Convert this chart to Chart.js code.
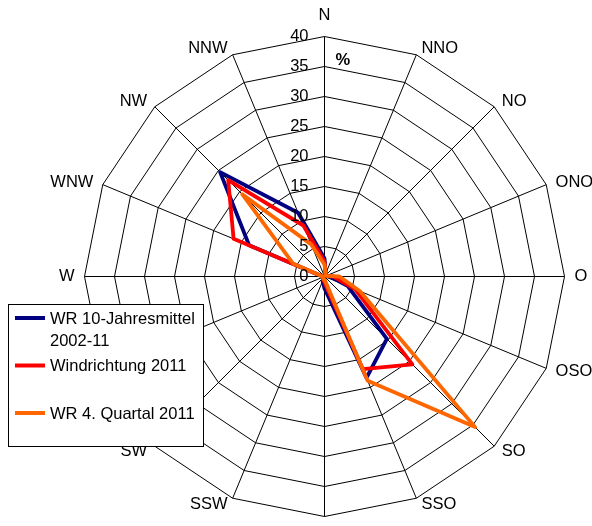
<!DOCTYPE html>
<html lang="de">
<head>
<meta charset="UTF-8">
<title>Windrichtung</title>
<script src="https://cdn.jsdelivr.net/npm/chart.js"></script>
<style>
  html, body { margin: 0; padding: 0; background: #fff; }
  #wrap { width: 592px; height: 526px; }
</style>
</head>
<body>
<div id="wrap"><canvas id="rose" width="592" height="526"></canvas></div>
<script>
// directions, clockwise from north
const directions = ["N", "NNO", "NO", "ONO", "O", "OSO", "SO", "SSO", "S", "SSW", "SW", "WSW", "W", "WNW", "NW", "NNW"];

// frequency in %
const mittel10 = [3, 0.5, 0.3, 0.3, 1, 4.2, 14.7, 18.3, 2, 0.8, 0.3, 0.3, 0.3, 13.6, 24.6, 11.5];
const jahr2011 = [2.5, 0.5, 0.3, 0.3, 1.5, 5.5, 20.7, 16.7, 1, 0.5, 0.3, 0.3, 0.3, 16.4, 22.7, 9.2];
const quartal4 = [2, 0.5, 0.3, 0.3, 2.5, 6.4, 35.5, 18.8, 0.5, 0.5, 0.3, 0.3, 0.3, 5.7, 19.4, 5.8];

const seriesNames = [["WR 10-Jahresmittel", "2002-11"], ["Windrichtung 2011"], ["WR 4. Quartal 2011"]];
const seriesColors = ["#000080", "#ff0000", "#ff6600"];

const tickValues = [0, 5, 10, 15, 20, 25, 30, 35, 40];
const unitLabel = "%";

const FONT = '16.5px "Liberation Sans", Arial, sans-serif';

// white page behind everything
const whiteBg = {
    id: 'whiteBg',
    beforeDraw(chart) {
        const ctx = chart.ctx;
        ctx.save();
        ctx.fillStyle = '#fff';
        ctx.fillRect(0, 0, chart.width, chart.height);
        ctx.restore();
    }
};

// tick numbers, direction names, unit and the boxed legend
const roseText = {
    id: 'roseText',
    afterDraw(chart) {
        const ctx = chart.ctx;
        const r = chart.scales.r;
        ctx.save();
        ctx.font = FONT;
        ctx.fillStyle = '#000';
        ctx.textBaseline = 'middle';

        ctx.textAlign = 'right';
        tickValues.forEach(v => {
            ctx.fillText(String(v), r.xCenter - 16, r.yCenter - r.getDistanceFromCenterForValue(v));
        });

        directions.forEach((d, i) => {
            const a = r.getIndexAngle(i);
            const s = Math.sin(a), c = Math.cos(a);
            const p = r.getPointPosition(i, r.drawingArea);
            if (Math.abs(s) < 0.01) {
                if (p.y - c * 22 > chart.height) return; // cut off like the original
                ctx.textAlign = 'center';
                ctx.fillText(d, p.x, p.y - c * 21);
            } else {
                const gap = 2 + 8 * Math.abs(s);
                ctx.textAlign = s > 0 ? 'left' : 'right';
                ctx.fillText(d, p.x + Math.sign(s) * gap, p.y - c * 7);
            }
        });

        ctx.font = 'bold ' + FONT;
        ctx.textAlign = 'left';
        ctx.fillText(unitLabel, r.xCenter + 11, r.yCenter - r.drawingArea * 0.9);

        // legend box
        const bx = 8.5, by = 304.5, bw = 195, bh = 142, slot = 47.5;
        ctx.fillStyle = '#fff';
        ctx.fillRect(bx, by, bw, bh);
        ctx.strokeStyle = '#000';
        ctx.lineWidth = 1;
        ctx.strokeRect(bx, by, bw, bh);
        ctx.font = FONT;
        seriesNames.forEach((lines, k) => {
            const y0 = by + k * slot + 13.5;
            ctx.strokeStyle = seriesColors[k];
            ctx.lineWidth = 4;
            ctx.beginPath();
            ctx.moveTo(15, y0);
            ctx.lineTo(45, y0);
            ctx.stroke();
            ctx.fillStyle = '#000';
            lines.forEach((t, j) => ctx.fillText(t, 50, y0 + 1 + j * 22));
        });
        ctx.restore();
    }
};

const allSeries = [mittel10, jahr2011, quartal4];

new Chart(document.getElementById('rose'), {
    type: 'radar',
    data: {
        labels: directions,
        datasets: allSeries.map((vals, k) => ({
            label: seriesNames[k].join(' '),
            data: vals,
            borderColor: seriesColors[k],
            backgroundColor: seriesColors[k],
            fill: false,
            order: 3 - k
        }))
    },
    options: {
        responsive: false,
        animation: false,
        events: [],
        layout: { padding: 0 },
        plugins: { legend: { display: false }, tooltip: { enabled: false } },
        elements: {
            line: { borderWidth: 3.8, tension: 0, borderJoinStyle: 'round' },
            point: { radius: 0, hoverRadius: 0 }
        },
        scales: {
            r: {
                min: 0,
                max: 40,
                ticks: { stepSize: 5, display: false },
                grid: { color: '#000', lineWidth: 1 },
                angleLines: { color: '#000', lineWidth: 1 },
                pointLabels: { display: false },
                afterFit(scale) {
                    // place the rose like in the original (bottom part cut off)
                    scale.xCenter = 324.5;
                    scale.yCenter = 276.5;
                    scale.drawingArea = 240;
                }
            }
        }
    },
    plugins: [whiteBg, roseText]
});
</script>
</body>
</html>
